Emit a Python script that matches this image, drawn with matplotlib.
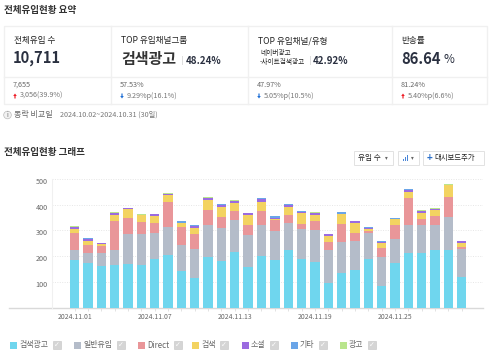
import matplotlib
matplotlib.use('Agg')
from matplotlib import pyplot as plt
from matplotlib.patches import Rectangle, FancyArrow
from matplotlib.transforms import offset_copy
import numpy as np

plt.rcParams['font.family'] = ['Noto Sans CJK KR', 'DejaVu Sans']

dates = ['2024.11.%02d' % d for d in range(1, 31)]
tick_labels = ['2024.11.01', '2024.11.07', '2024.11.13', '2024.11.19', '2024.11.25']
y_ticks = [100, 200, 300, 400, 500]

search_ad = [185, 172, 162, 165, 171, 167, 188, 204, 141, 115, 196, 182, 217, 157, 201,
             185, 226, 188, 179, 96, 134, 145, 188, 86, 172, 213, 213, 226, 226, 118]
general = [39, 41, 51, 59, 117, 121, 102, 110, 103, 113, 126, 129, 123, 124, 121,
           113, 102, 117, 123, 130, 121, 116, 102, 111, 96, 107, 107, 96, 127, 110]
direct = [66, 32, 27, 113, 61, 45, 39, 98, 70, 60, 57, 43, 36, 42, 52,
          42, 31, 22, 36, 31, 72, 29, 8, 33, 52, 107, 25, 35, 78, 8]
search = [16, 16, 8, 23, 34, 26, 28, 26, 15, 23, 40, 36, 31, 36, 38,
          6, 33, 41, 22, 22, 37, 41, 9, 23, 24, 24, 21, 24, 44, 14]
social = [6, 7, 4, 8, 3, 1, 7, 5, 2, 5, 9, 9, 7, 8, 9,
          2, 7, 2, 8, 8, 1, 6, 3, 2, 2, 8, 9, 3, 1, 8]
etc = [0, 2, 0, 0, 3, 0, 0, 0, 4, 4, 0, 3, 0, 0, 4,
       9, 3, 5, 0, 0, 6, 0, 2, 3, 3, 3, 0, 0, 0, 0]
ad = [4, 0, 0, 3, 0, 3, 0, 3, 0, 0, 4, 0, 4, 0, 0,
      0, 0, 0, 3, 0, 0, 0, 0, 0, 0, 0, 5, 2, 4, 0]

series = [search_ad, general, direct, search, social, etc, ad]
names = ['검색광고', '일반유입', 'Direct', '검색', '소셜', '기타', '광고']
colors = ['#6fd6ee', '#b4bcc9', '#e99699', '#f3d361', '#9b6be0', '#6aa5e8', '#b9e58d']
legend_x = [10, 74, 138, 192, 242, 291, 340]

W, H = 490, 355
fig = plt.figure(figsize=(W / 100, H / 100), dpi=100, facecolor='white')

# pixel canvas for the cards and the legend
bg = fig.add_axes([0, 0, 1, 1])
bg.set_xlim(0, W)
bg.set_ylim(H, 0)
bg.axis('off')

dark = '#222222'
gray = '#666666'
navy = '#2a3040'
border = '#f0f0f0'

bg.text(4, 10.5, '전체유입현황 요약', fontsize=6.9, color='#333333', va='center', weight='bold')
bg.text(4, 152.5, '전체유입현황 그래프', fontsize=6.9, color='#333333', va='center', weight='bold')

bg.add_patch(Rectangle((3.5, 25.5), 483, 78, fill=False, ec=border, lw=1))
bg.plot([3.5, 486.5], [77, 77], color=border, lw=1)
for x in [110.5, 247.5, 391.5]:
    bg.plot([x, x], [25.5, 103.5], color=border, lw=1)

bg.text(14, 41, '전체유입 수', fontsize=6.2, color=dark, va='center')
bg.text(13, 58, '10,711', fontsize=10.6, color=navy, va='center', weight='bold')
bg.text(121, 41, 'TOP 유입채널그룹', fontsize=6.2, color=dark, va='center')
bg.text(121, 59, '검색광고', fontsize=10.8, color='#333333', va='center', weight='bold')
bg.plot([181.5, 181.5], [56, 64], color='#dddddd', lw=0.7)
bg.text(186, 60.5, '48.24%', fontsize=7.0, color=navy, va='center', weight='bold')
bg.text(258, 41, 'TOP 유입채널/유형', fontsize=6.2, color=dark, va='center')
bg.text(260, 52.5, '네이버광고', fontsize=4.8, color=dark, va='center')
bg.text(260, 62, '-사이트검색광고', fontsize=4.8, color=dark, va='center')
bg.plot([309.5, 309.5], [56, 64], color='#dddddd', lw=0.7)
bg.text(313, 60.5, '42.92%', fontsize=7.0, color=navy, va='center', weight='bold')
bg.text(401, 41, '반송률', fontsize=6.2, color=dark, va='center')
bg.text(401, 58.5, '86.64', fontsize=10.6, color=navy, va='center', weight='bold')
bg.text(443, 59.5, '%', fontsize=8.5, color=navy, va='center')

sub = [(13, '7,655', '3,056(39.9%)', 'up'),
       (120, '57.53%', '9.29%p(16.1%)', 'down'),
       (257, '47.97%', '5.05%p(10.5%)', 'down'),
       (401, '81.24%', '5.40%p(6.6%)', 'up')]
for x, prev, diff, way in sub:
    bg.text(x, 85, prev, fontsize=5.2, color=gray, va='center')
    bg.text(x + 7, 95.5, diff, fontsize=5.2, color='#777777', va='center')
    if way == 'up':
        bg.add_patch(FancyArrow(x + 2, 98.5, 0, -5, width=1.2, head_width=3.6, head_length=2.5,
                                length_includes_head=True, color='#ee1c25', lw=0))
    else:
        bg.add_patch(FancyArrow(x + 2, 93.5, 0, 5, width=1.2, head_width=3.6, head_length=2.5,
                                length_includes_head=True, color='#1f6fd6', lw=0))

bg.add_patch(plt.Circle((7.5, 115), 3.8, fc='#f2f2f2', ec='#bbbbbb', lw=0.5))
bg.text(7.5, 115, 'i', fontsize=4.5, color='#666666', va='center', ha='center')
bg.text(14, 115, '동락 비교일', fontsize=5.8, color=gray, va='center')
bg.text(60, 115, '2024.10.02~2024.10.31 (30일)', fontsize=5.2, color='#777777', va='center')

# top right buttons
for x0, x1 in [(353, 392), (397, 418), (422, 483)]:
    bg.add_patch(Rectangle((x0 + 0.5, 151), x1 - x0, 14, fc='white', ec='#e2e2e2', lw=0.7))
bg.text(358, 158, '유입 수', fontsize=5.5, color=dark, va='center')
bg.text(386, 158, '▾', fontsize=4, color='#666666', va='center', ha='center')
for x, h in [(402.5, 2), (404.5, 4), (406.5, 6)]:
    bg.add_patch(Rectangle((x, 161 - h), 1.3, h, fc='#4a86d8', ec='none'))
bg.text(412, 158, '▾', fontsize=4, color='#666666', va='center', ha='center')
bg.text(429.5, 157.5, '+', fontsize=7, color='#2a6fc9', va='center', ha='center', weight='bold')
bg.text(434, 158, '대시보드추가', fontsize=5.3, color=dark, va='center')

# stacked bars, axes placed so that 0 sits on y=307.7 and 500 on y=179
ax = fig.add_axes([52 / W, (H - 307.7) / H, (483 - 52) / W, (307.7 - 179) / H], facecolor='none')
x = np.arange(len(dates))
bottom = np.zeros(len(dates))
for values, name, color in zip(series, names, colors):
    ax.bar(x, values, 0.7, bottom=bottom, color=color, label=name, linewidth=0)
    bottom += np.array(values)

ax.set_xlim(-1.7, 30.6)
ax.set_ylim(0, 500)
ax.set_yticks(y_ticks)
ax.set_yticklabels(y_ticks, fontsize=5.2, color=gray)
ax.tick_params(axis='y', length=0, pad=3)
for lab in ax.get_yticklabels():
    lab.set_transform(offset_copy(lab.get_transform(), fig=fig, y=-2, units='dots'))
ax.set_xticks(x[::6])
ax.set_xticklabels(tick_labels, fontsize=4.9, color=gray)
ax.set_xticks(x, minor=True)
ax.tick_params(axis='x', which='both', length=2, color='#dddddd', width=0.6, pad=1.5)
ax.set_axisbelow(True)
ax.grid(axis='y', color='#e6e6e6', linestyle=(0, (1, 1.5)), linewidth=0.7)
for side in ['top', 'right', 'bottom']:
    ax.spines[side].set_visible(False)
ax.spines['left'].set_color('#f0f0f0')
bg.plot([9, 483], [308, 308], color='#d9d9d9', lw=1)

# legend with the little disabled checkboxes
for lx, name, color in zip(legend_x, names, colors):
    bg.add_patch(Rectangle((lx, 341.5), 6.5, 7, fc=color, ec='none'))
    t = bg.text(lx + 9, 345, name, fontsize=5.7, color=gray, va='center')
    fig.canvas.draw()
    tw = t.get_window_extent().width
    bg.add_patch(Rectangle((lx + 9 + tw + 4.5, 341), 8, 8, fc='#d5d5d5', ec='#c4c4c4', lw=0.4))
    bg.text(lx + 9 + tw + 8.5, 345, '✓', fontsize=5, color='white', va='center', ha='center',
            family='DejaVu Sans')

fig.savefig('out.png', dpi=100)
